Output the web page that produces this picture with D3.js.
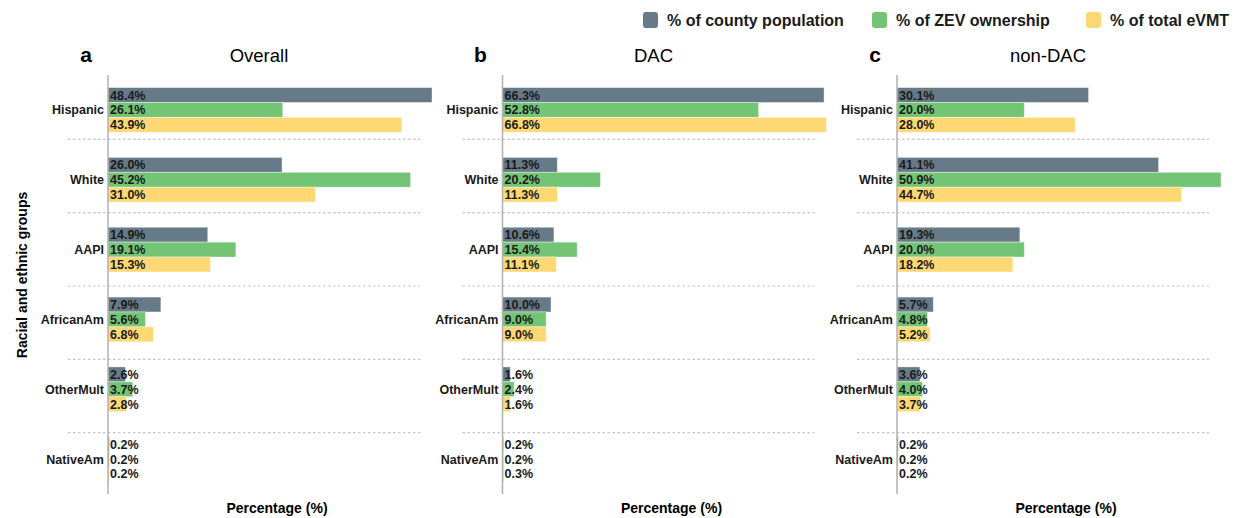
<!DOCTYPE html>
<html>
<head>
<meta charset="utf-8">
<script src="https://cdn.jsdelivr.net/npm/d3@7"></script>
<style>
  body { margin: 0; background: #fff; }
  text { font-family: "Liberation Sans", Arial, sans-serif; }
</style>
</head>
<body>
<script>
// data
var groups = ["Hispanic", "White", "AAPI", "AfricanAm", "OtherMult", "NativeAm"];
var series = ["% of county population", "% of ZEV ownership", "% of total eVMT"];
var colors = ["#677a87", "#73c474", "#fed872"];
var panels = ["Overall", "DAC", "non-DAC"];
var letters = ["a", "b", "c"];

var overallPop = [48.4, 26.0, 14.9, 7.9, 2.6, 0.2];
var overallZev = [26.1, 45.2, 19.1, 5.6, 3.7, 0.2];
var overallVmt = [43.9, 31.0, 15.3, 6.8, 2.8, 0.2];
var dacPop = [66.3, 11.3, 10.6, 10.0, 1.6, 0.2];
var dacZev = [52.8, 20.2, 15.4, 9.0, 2.4, 0.2];
var dacVmt = [66.8, 11.3, 11.1, 9.0, 1.6, 0.3];
var nonDacPop = [30.1, 41.1, 19.3, 5.7, 3.6, 0.2];
var nonDacZev = [20.0, 50.9, 20.0, 4.8, 4.0, 0.2];
var nonDacVmt = [28.0, 44.7, 18.2, 5.2, 3.7, 0.2];

var panelData = [
  [overallPop, overallZev, overallVmt],
  [dacPop, dacZev, dacVmt],
  [nonDacPop, nonDacZev, nonDacVmt]
];

var width = 1238, height = 518;
var svg = d3.select("body").append("svg")
  .attr("width", width)
  .attr("height", height);

var plotTop = 75, plotBottom = 494;
var y = d3.scaleBand().domain(groups).range([plotTop, plotBottom]).paddingInner(0.36).paddingOuter(0.18);
var ySub = d3.scaleBand().domain(d3.range(series.length)).range([0, y.bandwidth()]);
// separators sit on their own spacing
var sepY = d3.scaleLinear().domain([0, groups.length]).range([66, 506]);

panels.forEach(function(name, p) {
  var x0 = 108 + p * 394.5;
  var vals = panelData[p];
  var maxV = d3.max(vals, function(s) { return d3.max(s); });
  var x = d3.scaleLinear().domain([0, maxV]).range([x0, x0 + 324]);
  var g = svg.append("g");

  // dashed separators
  g.selectAll(".sep").data(d3.range(1, groups.length)).enter().append("line")
    .attr("x1", x0 - 40).attr("x2", x0 + 312)
    .attr("y1", function(d) { return sepY(d); })
    .attr("y2", function(d) { return sepY(d); })
    .attr("stroke", "#c4c4c4")
    .attr("stroke-width", 1.2)
    .attr("stroke-dasharray", "2.5,2.5");

  // bars
  vals.forEach(function(s, si) {
    g.selectAll(".bar" + si).data(s).enter().append("rect")
      .attr("x", x(0))
      .attr("y", function(d, i) { return y(groups[i]) + ySub(si); })
      .attr("width", function(d) { return x(d) - x(0); })
      .attr("height", ySub.bandwidth())
      .attr("fill", colors[si])
      .attr("stroke", "#ffffff")
      .attr("stroke-opacity", 0.5)
      .attr("stroke-width", 0.8);

    g.selectAll(".lab" + si).data(s).enter().append("text")
      .attr("x", x(0) + 2)
      .attr("y", function(d, i) { return y(groups[i]) + ySub(si) + ySub.bandwidth() / 2; })
      .attr("dy", "0.36em")
      .attr("font-size", 12.5)
      .attr("font-weight", "bold")
      .attr("fill", "#1a1a1a")
      .text(function(d) { return d.toFixed(1) + "%"; });
  });

  // axis line
  g.append("line")
    .attr("x1", x(0)).attr("x2", x(0))
    .attr("y1", plotTop).attr("y2", plotBottom)
    .attr("stroke", "#b0b0b0").attr("stroke-width", 1.5);

  // category labels
  g.selectAll(".cat").data(groups).enter().append("text")
    .attr("x", x(0) - 4)
    .attr("y", function(d) { return y(d) + y.bandwidth() / 2; })
    .attr("dy", "0.36em")
    .attr("text-anchor", "end")
    .attr("font-size", 12.5)
    .attr("font-weight", "bold")
    .attr("fill", "#1a1a1a")
    .text(function(d) { return d; });

  // titles
  g.append("text").attr("x", x0 - 22).attr("y", 62)
    .attr("text-anchor", "middle").attr("font-size", 21).attr("font-weight", "bold")
    .text(letters[p]);
  g.append("text").attr("x", x0 + 151).attr("y", 62)
    .attr("text-anchor", "middle").attr("font-size", 18.5)
    .text(name);
  g.append("text").attr("x", x0 + 169).attr("y", 513)
    .attr("text-anchor", "middle").attr("font-size", 14).attr("font-weight", "bold")
    .text("Percentage (%)");
});

// y axis title
svg.append("text")
  .attr("transform", "translate(27,275) rotate(-90)")
  .attr("text-anchor", "middle")
  .attr("font-size", 14).attr("font-weight", "bold")
  .text("Racial and ethnic groups");

// legend
var legendX = [643, 872, 1086];
var leg = svg.append("g");
series.forEach(function(s, i) {
  leg.append("rect")
    .attr("x", legendX[i]).attr("y", 12)
    .attr("width", 15).attr("height", 16)
    .attr("rx", 3)
    .attr("fill", colors[i]);
  leg.append("text")
    .attr("x", legendX[i] + 24).attr("y", 20.5)
    .attr("dy", "0.36em")
    .attr("font-size", 16).attr("font-weight", "bold")
    .attr("fill", "#1a1a1a")
    .text(s);
});
</script>
</body>
</html>
